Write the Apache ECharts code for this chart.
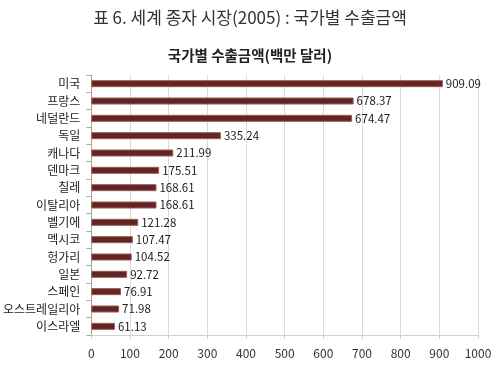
<!DOCTYPE html>
<html><head><meta charset="utf-8">
<script src="https://cdn.jsdelivr.net/npm/echarts@6/dist/echarts.min.js"></script>
<style>html,body{margin:0;padding:0;background:#fff}#c{width:500px;height:367px}</style>
</head><body><div id="c"></div>
<script>
const categories = ['미국','프랑스','네덜란드','독일','캐나다','덴마크','칠레','이탈리아','벨기에','멕시코','헝가리','일본','스페인','오스트레일리아','이스라엘'];
const values = [909.09,678.37,674.47,335.24,211.99,175.51,168.61,168.61,121.28,107.47,104.52,92.72,76.91,71.98,61.13];
const valueLabels = ['909.09','678.37','674.47','335.24','211.99','175.51','168.61','168.61','121.28','107.47','104.52','92.72','76.91','71.98','61.13'];
const xTicks = [0,100,200,300,400,500,600,700,800,900,1000];
const font = '"Noto Sans CJK KR", "Noto Sans", sans-serif';
const chart = echarts.init(document.getElementById('c'));
chart.setOption({
  animation:false,
  textStyle:{fontFamily:font},
  title:[
    {text:'표 6. 세계 종자 시장(2005) : 국가별 수출금액',left:'center',top:4,textStyle:{fontSize:17,fontWeight:'normal',color:'#333',fontFamily:font}},
    {text:'국가별 수출금액(백만 달러)',left:'center',top:43,textStyle:{fontSize:14.5,fontWeight:'bold',color:'#222',fontFamily:font}}
  ],
  grid:{left:89,right:22,top:75,bottom:32,containLabel:false},
  xAxis:{type:'value',min:xTicks[0],max:xTicks[xTicks.length-1],interval:100,
    axisLine:{show:true,lineStyle:{color:'#d0d0d0'}},
    axisTick:{show:true,length:4,lineStyle:{color:'#d0d0d0'}},
    splitLine:{show:true,lineStyle:{color:'#d9d9d9'}},
    axisLabel:{color:'#333',fontSize:12,margin:12,fontFamily:font,formatter:v=>String(v)}},
  yAxis:{type:'category',data:categories,inverse:true,
    axisLine:{show:true,lineStyle:{color:'#a6a6a6'}},
    axisTick:{show:true,length:5,lineStyle:{color:'#a6a6a6'}},
    axisLabel:{color:'#222',fontSize:12,margin:11,fontFamily:font}},
  series:[{type:'bar',data:values,barWidth:7,
    itemStyle:{color:'#632523',borderColor:'#9a5a58',borderWidth:1},
    label:{show:true,position:'right',distance:3,color:'#222',fontSize:11.5,fontFamily:font,
      formatter:p=>valueLabels[p.dataIndex]}}]
});
</script></body></html>
